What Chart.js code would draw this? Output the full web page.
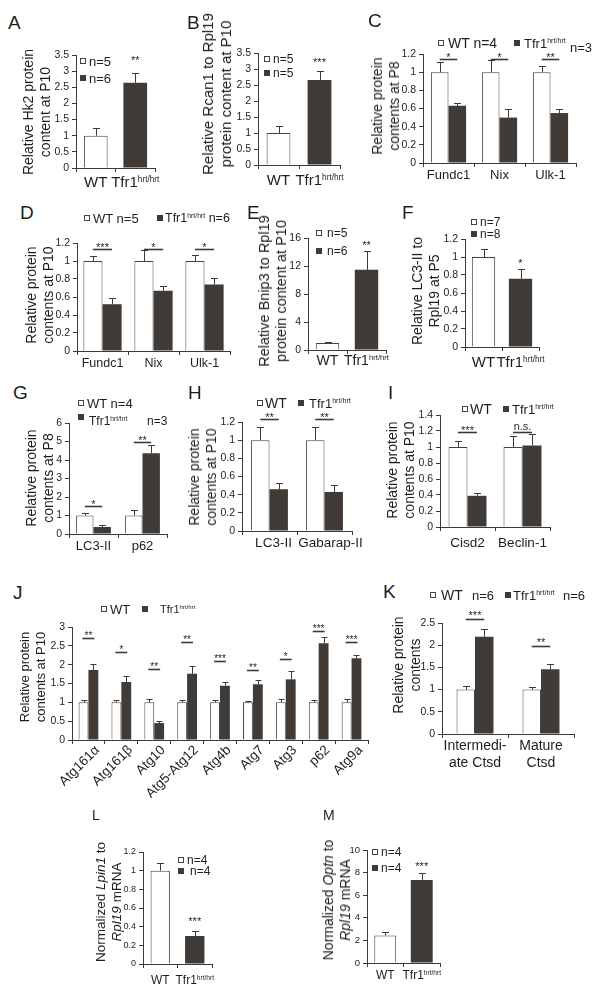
<!DOCTYPE html>
<html><head><meta charset="utf-8">
<script src="https://cdn.jsdelivr.net/npm/chart.js@4.4.1/dist/chart.umd.min.js"></script>
<style>
body{margin:0;background:#fff;}
#page{position:relative;width:601px;height:998px;overflow:hidden;font-family:"Liberation Sans",Arial,sans-serif;color:#1e1e1e;background:#fff;}
canvas{position:absolute;}
.t{position:absolute;white-space:nowrap;}
.sq{position:absolute;box-sizing:border-box;border:1px solid #444;background:#fff;}
.sq.d{background:#3e3a37;border-color:#3e3a37;}
.vt{position:absolute;white-space:nowrap;text-align:center;transform:translate(-50%,-50%) rotate(-90deg);}
sup{font-size:0.55em;vertical-align:0;position:relative;top:-0.62em;}
</style>
</head><body><div id="page"></div>
<script>
// ---------------- DATA ----------------
const twoLabels = ['WT', 'Tfr1'];

const A_values = [1.00, 2.64], A_err = [0.23, 0.29], A_ticks = [0,0.5,1,1.5,2,2.5,3,3.5], A_star = ['**'], A_starLevel = [3.43];
const B_values = [1.00, 2.66], B_err = [0.22, 0.28], B_ticks = [0,0.5,1,1.5,2,2.5,3,3.5], B_star = ['***'], B_starLevel = [3.28];

const C_cats = ['Fundc1','Nix','Ulk-1'];
const C_wt = [1,1,1], C_wtErr = [0.11,0.13,0.065];
const C_tf = [0.63,0.50,0.55], C_tfErr = [0.03,0.10,0.045];
const C_sig = ['*','*','**'], C_sigLevel = [1.145,1.145,1.145];
const C_ticks = [0,0.2,0.4,0.6,0.8,1,1.2];

const D_cats = ['Fundc1','Nix','Ulk-1'];
const D_wt = [1,1,1], D_wtErr = [0.06,0.12,0.07];
const D_tf = [0.52,0.67,0.74], D_tfErr = [0.065,0.05,0.07];
const D_sig = ['***','*','*'], D_sigLevel = [1.13,1.13,1.13];
const D_ticks = [0,0.2,0.4,0.6,0.8,1,1.2];

const E_values = [1.0, 11.45], E_err = [0.2, 2.65], E_ticks = [0,2,4,6,8,10,12,14,16], E_star = ['**'], E_starLevel = [15.4];
const F_values = [1.0, 0.757], F_err = [0.085, 0.11], F_ticks = [0,0.2,0.4,0.6,0.8,1,1.2], F_star = ['*'], F_starLevel = [0.96];

const G_cats = ['LC3-II','p62'];
const G_wt = [1,1], G_wtErr = [0.15,0.30];
const G_tf = [0.38,4.36], G_tfErr = [0.10,0.45];
const G_sig = ['*','**'], G_sigLevel = [1.53,4.99];
const G_ticks = [0,1,2,3,4,5,6];

const H_cats = ['LC3-II','Gabarap-II'];
const H_wt = [1,1], H_wtErr = [0.15,0.14];
const H_tf = [0.46,0.43], H_tfErr = [0.065,0.08];
const H_sig = ['**','**'], H_sigLevel = [1.23,1.23];
const H_ticks = [0,0.2,0.4,0.6,0.8,1,1.2];

const I_cats = ['Cisd2','Beclin-1'];
const I_wt = [1,1], I_wtErr = [0.07,0.14];
const I_tf = [0.39,1.02], I_tfErr = [0.04,0.14];
const I_sig = ['***','n.s.'], I_sigLevel = [1.19,1.19];
const I_ticks = [0,0.2,0.4,0.6,0.8,1,1.2,1.4];

const J_cats = ['Atg161α','Atg161β','Atg10','Atg5-Atg12','Atg4b','Atg7','Atg3','p62','Atg9a'];
const J_wt = [1,1,1,1,1,1,1,1,1];
const J_wtErr = [0.05,0.05,0.10,0.07,0.05,0.04,0.09,0.06,0.08];
const J_tf = [1.86,1.54,0.45,1.76,1.44,1.48,1.61,2.57,2.17];
const J_tfErr = [0.16,0.17,0.05,0.20,0.09,0.10,0.21,0.16,0.09];
const J_sig = ['**','*','**','**','***','**','*','***','***'];
const J_sigLevel = [2.71,2.33,1.89,2.60,2.11,1.85,2.16,2.89,2.60];
const J_ticks = [0,0.5,1,1.5,2,2.5,3];

const K_cats = [['Intermedi-','ate Ctsd'],['Mature','Ctsd']];
const K_wt = [1,1], K_wtErr = [0.07,0.06];
const K_tf = [2.19,1.46], K_tfErr = [0.17,0.11];
const K_sig = ['***','**'], K_sigLevel = [2.58,1.98];
const K_ticks = [0,0.5,1,1.5,2,2.5];

const L_values = [1.0, 0.30], L_err = [0.08, 0.05], L_ticks = [0,0.2,0.4,0.6,0.8,1,1.2], L_star = ['***'], L_starLevel = [0.49];
const M_values = [2.44, 7.35], M_err = [0.26, 0.60], M_ticks = [0,2,4,6,8,10], M_star = ['***'], M_starLevel = [8.8];

// ---------------- DRAWING ----------------
const DARK = '#403b37', AXIS = '#3a3a3a', TXT = '#1e1e1e', FAM = "'Liberation Sans', Arial, sans-serif";
Chart.defaults.font.family = FAM;
Chart.defaults.color = TXT;
const page = document.getElementById('page');

function fnt(s, it){ return (it ? 'italic ' : '') + s + 'px ' + FAM; }
function parts(c){ return c === 'Tfr1' ? [{t:'Tfr1'},{t:'hrt/hrt',sup:true}] : [{t:c}]; }
function drawRich(ctx, ps, x, y, fs){
  let w = 0;
  ps.forEach(p => { ctx.font = fnt(p.sup ? fs*0.55 : fs); w += ctx.measureText(p.t).width; });
  let cx = x - w/2;
  ctx.textAlign = 'left'; ctx.textBaseline = 'alphabetic';
  ps.forEach(p => { const s = p.sup ? fs*0.55 : fs; ctx.font = fnt(s);
    ctx.fillText(p.t, cx, p.sup ? y - fs*0.33 : y); cx += ctx.measureText(p.t).width; });
}
function sigText(ctx, t, x, cy, fs){
  ctx.font = fnt(fs); ctx.textAlign = 'center'; ctx.textBaseline = 'alphabetic';
  const off = t.indexOf('*') >= 0 ? 0.58 : 0.26;
  ctx.fillText(t, x, cy + off*fs);
}

function makeOverlay(p){
  return { id: 'ov' + p.id, afterDatasetsDraw(chart){
    const ctx = chart.ctx, xs = chart.scales.x, ys = chart.scales.y, ca = chart.chartArea;
    ctx.save();
    ctx.strokeStyle = AXIS; ctx.fillStyle = TXT;
    chart.data.datasets.forEach((ds, di) => {
      const meta = chart.getDatasetMeta(di);
      ds.err.forEach((e, i) => {
        const b = meta.data[i];
        const cx = Math.round(b.x) + 0.5;
        const top = Math.round(ys.getPixelForValue(ds.data[i] + e)) + 0.5;
        const cap = p.cap || 3.5;
        ctx.lineWidth = 1;
        ctx.beginPath(); ctx.moveTo(cx, b.y); ctx.lineTo(cx, top);
        ctx.moveTo(cx - cap, top); ctx.lineTo(cx + cap, top); ctx.stroke();
      });
    });
    if (p.sig) {
      const m0 = chart.getDatasetMeta(0), m1 = chart.getDatasetMeta(1);
      p.sig.forEach((t, i) => {
        const a = m0.data[i].x - (p.sigExt || 0), b = m1.data[i].x + (p.sigExt || 0);
        const ly = Math.round(ys.getPixelForValue(p.sigLevel[i])) + 0.5;
        ctx.lineWidth = 1.6; ctx.beginPath(); ctx.moveTo(a, ly); ctx.lineTo(b, ly); ctx.stroke();
        sigText(ctx, t, (a + b)/2, ly - (p.sigGap || 5), p.sigFs || 11);
      });
    }
    if (p.star) {
      const m0 = chart.getDatasetMeta(0);
      p.star.forEach((t, k) => {
        sigText(ctx, t, m0.data[1].x, ys.getPixelForValue(p.starLevel[k]), p.sigFs || 11);
      });
    }
    ctx.fillStyle = TXT;
    p.cats.forEach((c, i) => {
      const x = xs.getPixelForValue(i);
      if (p.rot) {
        ctx.save(); ctx.translate(x + p.rotDx, ca.bottom + p.rotDy); ctx.rotate(-Math.PI/4);
        ctx.font = fnt(p.labFs); ctx.textAlign = 'right'; ctx.textBaseline = 'middle';
        ctx.fillText(c, 0, 0); ctx.restore();
      } else if (Array.isArray(c)) {
        c.forEach((line, li) => drawRich(ctx, parts(line), x, ca.bottom + p.labDy + li*p.labLh + p.labFs*0.36, p.labFs));
      } else {
        drawRich(ctx, parts(c), x + (p.labShift ? p.labShift[i] : 0), ca.bottom + p.labDy + p.labFs*0.36, p.labFs);
      }
    });
    ctx.restore();
  }};
}

function makeChart(p){
  const cv = document.createElement('canvas');
  const L = p.x0 - 34, T = p.yTop - (p.padTop || 24), R = p.x1 + 14, B = p.yBot + (p.padBottom || 42);
  cv.width = R - L; cv.height = B - T;
  cv.style.left = L + 'px'; cv.style.top = T + 'px';
  page.appendChild(cv);
  const ticks = p.ticks;
  const datasets = p.values ? [
    { data: p.values, err: p.err, backgroundColor: ['#fff', DARK], borderColor: ['#444', DARK], borderWidth: [1, 0], borderSkipped: 'bottom' }
  ] : [
    { data: p.wt, err: p.wtErr, backgroundColor: '#fff', borderColor: '#444', borderWidth: 1, borderSkipped: 'bottom' },
    { data: p.tf, err: p.tfErr, backgroundColor: DARK, borderWidth: 0 }
  ];
  new Chart(cv, {
    type: 'bar',
    data: { labels: p.cats.map(c => Array.isArray(c) ? c.join(' ') : c), datasets },
    options: {
      responsive: false, animation: false, devicePixelRatio: 1,
      layout: { padding: { left: 4, top: p.yTop - T, right: R - p.x1, bottom: B - p.yBot } },
      datasets: { bar: { categoryPercentage: p.catPct, barPercentage: p.barPct } },
      plugins: { legend: { display: false }, tooltip: { enabled: false } },
      scales: {
        x: { ticks: { display: false },
             grid: { drawOnChartArea: false, drawTicks: true, tickLength: 4, color: AXIS, offset: true },
             border: { color: AXIS, width: 1 },
             afterFit(s){ s.height = 0; } },
        y: { min: ticks[0], max: ticks[ticks.length - 1],
             afterBuildTicks(s){ s.ticks = ticks.map(v => ({ value: v })); },
             ticks: { font: { size: p.tickFs || 10.5 }, color: TXT, padding: 3, callback: v => String(+(+v).toFixed(2)) },
             grid: { drawOnChartArea: false, drawTicks: true, tickLength: 4, color: AXIS },
             border: { color: AXIS, width: 1 },
             afterFit(s){ s.width = 30; } }
      }
    },
    plugins: [makeOverlay(p)]
  });
}

function txt(x, yc, html, fs, extra){
  const d = document.createElement('div'); d.className = 't';
  d.style.left = x + 'px'; d.style.top = (yc - fs*0.49) + 'px';
  d.style.fontSize = fs + 'px'; d.style.lineHeight = fs + 'px';
  if (extra) Object.assign(d.style, extra);
  d.innerHTML = html; page.appendChild(d);
}
function sq(x, yc, dark, s){
  s = s || 6;
  const d = document.createElement('div'); d.className = 'sq' + (dark ? ' d' : '');
  d.style.left = x + 'px'; d.style.top = (yc - s/2) + 'px'; d.style.width = s + 'px'; d.style.height = s + 'px';
  page.appendChild(d);
}
function letter(ch, x, capTop, fs){
  fs = fs || 19;
  const d = document.createElement('div'); d.className = 't';
  d.style.left = x + 'px'; d.style.top = (capTop - 0.13*fs) + 'px';
  d.style.fontSize = fs + 'px'; d.style.lineHeight = fs + 'px';
  d.textContent = ch; page.appendChild(d);
}
function vtitle(cx, cy, lines, fs, lh){
  const d = document.createElement('div'); d.className = 'vt';
  d.style.left = cx + 'px'; d.style.top = cy + 'px';
  d.style.fontSize = fs + 'px'; d.style.lineHeight = (lh || fs*1.2) + 'px';
  d.innerHTML = lines.join('<br>'); page.appendChild(d);
}

// ---------------- PANELS ----------------
makeChart({id:'A', x0:76, x1:155, yTop:55, yBot:168, ticks:A_ticks, cats:twoLabels, values:A_values, err:A_err,
  catPct:1, barPct:0.6, labFs:15, labDy:14, star:A_star, starLevel:A_starLevel});
makeChart({id:'B', x0:258, x1:340, yTop:53, yBot:165, ticks:B_ticks, cats:twoLabels, values:B_values, err:B_err,
  catPct:1, barPct:0.58, labFs:15, labDy:15, star:B_star, starLevel:B_starLevel});
makeChart({id:'C', x0:423, x1:576, yTop:54, yBot:163, ticks:C_ticks, cats:C_cats, wt:C_wt, wtErr:C_wtErr, tf:C_tf, tfErr:C_tfErr,
  catPct:0.69, barPct:1, labFs:13, labDy:11, sig:C_sig, sigLevel:C_sigLevel});
makeChart({id:'D', x0:77, x1:230, yTop:243, yBot:351, ticks:D_ticks, cats:D_cats, wt:D_wt, wtErr:D_wtErr, tf:D_tf, tfErr:D_tfErr,
  catPct:0.75, barPct:1, labFs:12.5, labDy:11, sig:D_sig, sigLevel:D_sigLevel});
makeChart({id:'E', x0:308, x1:386, yTop:238, yBot:350, ticks:E_ticks, cats:twoLabels, values:E_values, err:E_err,
  catPct:1, barPct:0.6, labFs:14, labDy:10, star:E_star, starLevel:E_starLevel});
makeChart({id:'F', x0:465, x1:539, yTop:239, yBot:347, ticks:F_ticks, cats:twoLabels, values:F_values, err:F_err,
  catPct:1, barPct:0.63, labFs:15, labDy:14.5, star:F_star, starLevel:F_starLevel});
makeChart({id:'G', x0:69, x1:167, yTop:423, yBot:534, ticks:G_ticks, cats:G_cats, wt:G_wt, wtErr:G_wtErr, tf:G_tf, tfErr:G_tfErr,
  catPct:0.71, barPct:1, labFs:13, labDy:11, sig:G_sig, sigLevel:G_sigLevel});
makeChart({id:'H', x0:242, x1:352, yTop:422, yBot:531, ticks:H_ticks, cats:H_cats, wt:H_wt, wtErr:H_wtErr, tf:H_tf, tfErr:H_tfErr,
  catPct:0.67, barPct:1, labFs:13.5, labDy:11, labShift:[4,6], sig:H_sig, sigLevel:H_sigLevel});
makeChart({id:'I', x0:440, x1:550, yTop:415, yBot:527, ticks:I_ticks, cats:I_cats, wt:I_wt, wtErr:I_wtErr, tf:I_tf, tfErr:I_tfErr,
  catPct:0.69, barPct:1, labFs:13.5, labDy:15, sig:I_sig, sigLevel:I_sigLevel});
makeChart({id:'J', x0:72, x1:368, yTop:627, yBot:740, ticks:J_ticks, cats:J_cats, wt:J_wt, wtErr:J_wtErr, tf:J_tf, tfErr:J_tfErr,
  catPct:0.6, barPct:1, labFs:13.5, rot:true, rotDx:9, rotDy:8, padBottom:75, cap:3, sig:J_sig, sigLevel:J_sigLevel, sigExt:1, sigFs:10});
makeChart({id:'K', x0:442, x1:574, yTop:623, yBot:734, ticks:K_ticks, cats:K_cats, wt:K_wt, wtErr:K_wtErr, tf:K_tf, tfErr:K_tfErr,
  catPct:0.56, barPct:1, labFs:14, labDy:11, labLh:17, padBottom:48, sig:K_sig, sigLevel:K_sigLevel, sigGap:7});
makeChart({id:'L', x0:143, x1:212, yTop:852, yBot:964, ticks:L_ticks, cats:twoLabels, values:L_values, err:L_err,
  catPct:1, barPct:0.56, labFs:12, labDy:16, tickFs:9, star:L_star, starLevel:L_starLevel});
makeChart({id:'M', x0:367, x1:440, yTop:850, yBot:963, ticks:M_ticks, cats:twoLabels, values:M_values, err:M_err,
  catPct:1, barPct:0.6, labFs:12, labDy:12, tickFs:9.5, star:M_star, starLevel:M_starLevel});

letter('A',8,15); letter('B',187,15); letter('C',368,13);
letter('D',20,205); letter('E',247,205); letter('F',402,205);
letter('G',13,385); letter('H',188,385); letter('I',388,385);
letter('J',13,585); letter('K',383,584);
letter('L',92,810,14); letter('M',323,810,14);

vtitle(37,112,['Relative Hk2 protein','content at P10'],14,17);
vtitle(217,94,['Relative Rcan1 to Rpl19','protein content at P10'],15,18);
vtitle(386,106,['Relative protein','contents at P8'],14,17);
vtitle(40,295,['Relative protein','contents at P10'],14,17);
vtitle(273,291,['Relative Bnip3 to Rpl19','protein content at P10'],14.5,17);
vtitle(426,291,['Relative LC3-II to','Rpl19 at P5'],14,17);
vtitle(40,478,['Relative protein','contents at P8'],14,17);
vtitle(203,477,['Relative protein','contents at P10'],14,17);
vtitle(401,470,['Relative protein','contents at P10'],14,17);
vtitle(33,677,['Relative protein','contents at P10'],13,16);
vtitle(407,665,['Relative protein','contents'],14,17);
vtitle(109,902,['Normalized <i>Lpin1</i> to','<i>Rpl19</i> mRNA'],13.5,16);
vtitle(337,900,['Normalized <i>Optn</i> to','<i>Rpl19</i> mRNA'],14,17);

sq(80,61,false); txt(89,61,'n=5',13); sq(80,78,true); txt(89,78,'n=6',13);
sq(264,59,false); txt(273,59,'n=5',12); sq(264,73,true); txt(273,73,'n=5',12);
sq(438,43,false); txt(448,43,'WT n=4',14); sq(514,43,true); txt(524,43,'Tfr1<sup>hrt/hrt</sup>',13); txt(570,47,'n=3',13);
sq(84,218,false); txt(93,218,'WT n=5',13); sq(157,218,true); txt(165,218,'Tfr1<sup>hrt/hrt</sup> n=6',12.5);
sq(316,233,false); txt(327,233,'n=5',12); sq(316,251,true); txt(327,251,'n=6',12);
sq(471,222,false); txt(480,222,'n=7',12); sq(471,234,true); txt(480,234,'n=8',12);
sq(78,403,false); txt(87,403,'WT n=4',13); sq(78,417,true); txt(89,421,'Tfr1<sup>hrt/hrt</sup>',12); txt(147,421,'n=3',12);
sq(257,403,false); txt(265,403,'WT',14); sq(298,403,true); txt(309,403,'Tfr1<sup>hrt/hrt</sup>',13);
sq(462,409,false); txt(470,409,'WT',14); sq(503,409,true); txt(512,409,'Tfr1<sup>hrt/hrt</sup>',13);
sq(101,609,false); txt(110,609,'WT',13); sq(142,609,true); txt(160,609,'Tfr1<sup>hrt/hrt</sup>',11);
sq(430,595,false); txt(441,595,'WT',14); txt(472,595,'n=6',13); sq(505,595,true); txt(513,595,'Tfr1<sup>hrt/hrt</sup>',13); txt(563,595,'n=6',13);
sq(178,860,false); txt(187,860,'n=4',12); sq(178,871,true); txt(190,871,'n=4',12);
sq(372,852,false); txt(381,852,'n=4',12); sq(372,868,true); txt(381,868,'n=4',12);
</script></body></html>
